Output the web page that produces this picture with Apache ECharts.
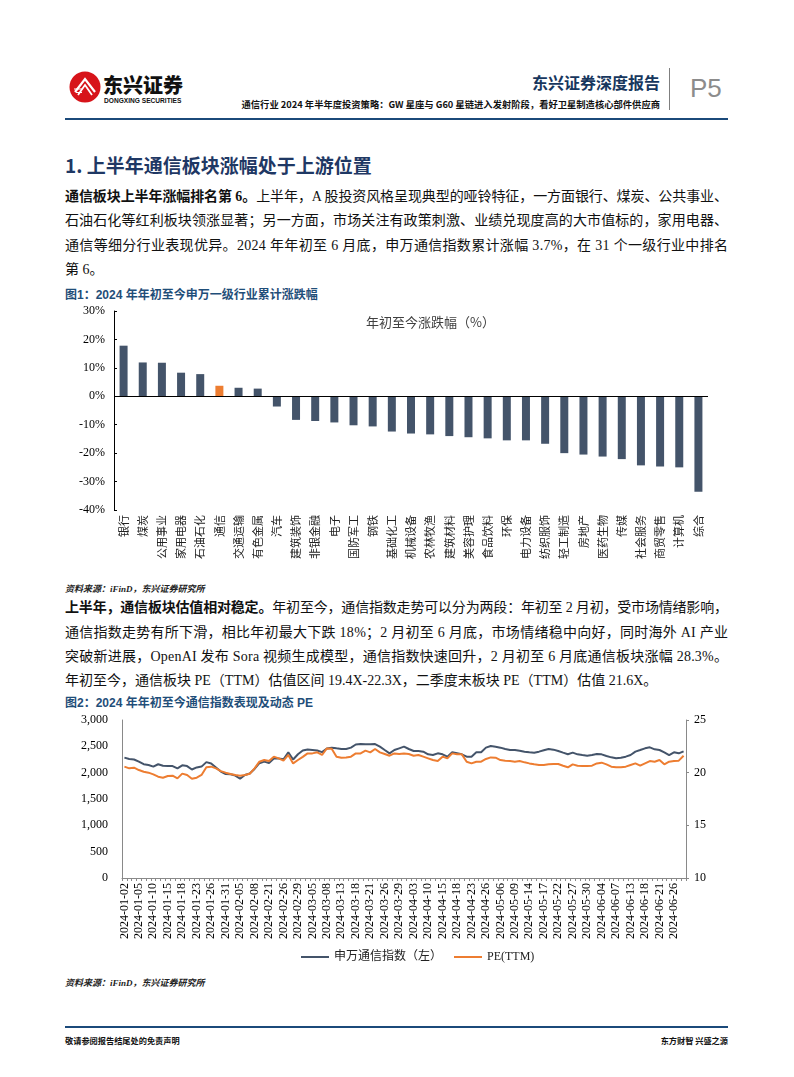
<!DOCTYPE html>
<html><head><meta charset="utf-8">
<script src="https://cdn.jsdelivr.net/npm/echarts/dist/echarts.min.js"></script>
<style>
html,body{margin:0;padding:0;background:#fff;}
#page{position:relative;width:794px;height:1077px;overflow:hidden;background:#fff;font-family:"Liberation Serif","Noto Sans CJK SC",serif;color:#111;}
.abs{position:absolute;white-space:nowrap;}
.body{position:absolute;left:65px;font-size:14px;line-height:24px;height:24px;white-space:nowrap;font-family:"Liberation Serif","Noto Sans CJK SC",serif;color:#111;}
.cap{position:absolute;left:65px;font-size:12px;line-height:16px;font-weight:bold;color:#1F4E79;font-family:"Liberation Sans","Noto Sans CJK SC",sans-serif;}
.src{position:absolute;left:65px;font-size:9px;line-height:14px;font-style:italic;font-weight:bold;color:#222;font-family:"Liberation Serif","Noto Sans CJK SC",serif;}
</style></head>
<body><div id="page">
  <!-- header -->
  <svg class="abs" style="left:69px;top:71px" width="32" height="32" viewBox="0 0 32 32">
    <circle cx="16" cy="16" r="15.5" fill="#D7141A"/>
    <path d="M6 21 L16 8 L26 21" stroke="#fff" stroke-width="2.2" fill="none"/>
    <path d="M9 24 L16 14 L23 24" stroke="#fff" stroke-width="1.8" fill="none"/>
    <path d="M5 18 L13 18 M7 21.5 L13 21.5" stroke="#fff" stroke-width="1.2"/>
  </svg>
  <div class="abs" style="left:103px;top:73px;font-size:20px;line-height:24px;font-weight:900;color:#111;font-family:'Noto Sans CJK SC';">东兴证券</div>
  <div class="abs" style="left:104px;top:97px;font-size:6.6px;line-height:8px;font-weight:bold;color:#111;font-family:'Liberation Sans'">DONGXING SECURITIES</div>
  <div class="abs" style="right:134px;top:71px;font-size:16px;line-height:22px;font-weight:bold;color:#17375E;font-family:'Noto Sans CJK SC'">东兴证券深度报告</div>
  <div class="abs" style="right:134px;top:98px;font-size:9.3px;line-height:12px;font-weight:bold;color:#111;font-family:'Noto Sans CJK SC'">通信行业 2024 年半年度投资策略：GW 星座与 G60 星链进入发射阶段，看好卫星制造核心部件供应商</div>
  <div class="abs" style="left:669px;top:68px;width:1px;height:42px;background:#7f7f7f"></div>
  <div class="abs" style="left:690px;top:72px;font-size:26px;line-height:32px;color:#8c8c8c;font-family:'Liberation Sans'">P5</div>
  <div class="abs" style="left:65px;top:118px;width:663px;height:2px;background:#1B4A7A"></div>

  <div class="abs" style="left:65px;top:152px;font-size:19px;line-height:26px;font-weight:bold;color:#1F3864;font-family:'Noto Sans CJK SC'">1. 上半年通信板块涨幅处于上游位置</div>

  <div class="body just" style="top:185px"><b>通信板块上半年涨幅排名第 6。</b>上半年，A 股投资风格呈现典型的哑铃特征，一方面银行、煤炭、公共事业、</div>
  <div class="body just" style="top:209px">石油石化等红利板块领涨显著；另一方面，市场关注有政策刺激、业绩兑现度高的大市值标的，家用电器、</div>
  <div class="body just" style="top:234px">通信等细分行业表现优异。2024 年年初至 6 月底，申万通信指数累计涨幅 3.7%，在 31 个一级行业中排名</div>
  <div class="body" style="top:258px">第 6。</div>

  <div class="cap" style="top:287px">图1：2024 年年初至今申万一级行业累计涨跌幅</div>
  <div id="c1" class="abs" style="left:0;top:300px;width:794px;height:280px"></div>
  <div class="src" style="top:582px">资料来源：iFinD，东兴证券研究所</div>

  <div class="body just" style="top:596px"><b>上半年，通信板块估值相对稳定。</b>年初至今，通信指数走势可以分为两段：年初至 2 月初，受市场情绪影响，</div>
  <div class="body just" style="top:621px">通信指数走势有所下滑，相比年初最大下跌 18%；2 月初至 6 月底，市场情绪稳中向好，同时海外 AI 产业</div>
  <div class="body just" style="top:645px">突破新进展，OpenAI 发布 Sora 视频生成模型，通信指数快速回升，2 月初至 6 月底通信板块涨幅 28.3%。</div>
  <div class="body" style="top:669px">年初至今，通信板块 PE（TTM）估值区间 19.4X-22.3X，二季度末板块 PE（TTM）估值 21.6X。</div>

  <div class="cap" style="top:695px">图2：2024 年年初至今通信指数表现及动态 PE</div>
  <div id="c2" class="abs" style="left:0;top:705px;width:794px;height:265px"></div>
  <div class="src" style="top:976px">资料来源：iFinD，东兴证券研究所</div>

  <div class="abs" style="left:65px;top:1026px;width:663px;height:2px;background:#1B4A7A"></div>
  <div class="abs" style="left:65px;top:1034px;font-size:8.2px;line-height:12px;font-weight:bold;color:#111;font-family:'Noto Sans CJK SC'">敬请参阅报告结尾处的免责声明</div>
  <div class="abs" style="right:66px;top:1034px;font-size:8.2px;line-height:12px;font-weight:bold;color:#111;font-family:'Noto Sans CJK SC'">东方财智 兴盛之源</div>
</div>
<script>
// justify each full body line to the 663px text width
document.querySelectorAll('.just').forEach(el=>{
  const w = el.getBoundingClientRect().width;
  const n = el.textContent.length;
  el.style.letterSpacing = ((663 - w)/(n-1)) + 'px';
});

// ---- Figure 1 data ----
const industries = ['银行','煤炭','公用事业','家用电器','石油石化','通信','交通运输','有色金属','汽车','建筑装饰','非银金融','电子','国防军工','钢铁','基础化工','机械设备','农林牧渔','建筑材料','美容护理','食品饮料','环保','电力设备','纺织服饰','轻工制造','房地产','医药生物','传媒','社会服务','商贸零售','计算机','综合'];
const ytdChange = [17.8,11.9,11.8,8.3,7.8,3.7,3.0,2.7,-3.6,-8.3,-8.7,-9.2,-10.2,-10.6,-12.4,-13.1,-13.4,-14.0,-14.4,-14.8,-15.5,-15.5,-16.7,-20.0,-20.5,-21.2,-22.1,-24.3,-24.7,-25.0,-33.6];
const highlightIndustry = '通信';
const pctTicks = {min:-40, max:30, step:10};

// ---- Figure 2 data ----
const tradeDates = [
'2024-01-02','2024-01-03','2024-01-04','2024-01-05','2024-01-08','2024-01-09','2024-01-10','2024-01-11','2024-01-12','2024-01-15','2024-01-16','2024-01-17','2024-01-18','2024-01-19','2024-01-22','2024-01-23','2024-01-24','2024-01-25','2024-01-26','2024-01-29','2024-01-30','2024-01-31',
'2024-02-01','2024-02-02','2024-02-05','2024-02-06','2024-02-07','2024-02-08','2024-02-19','2024-02-20','2024-02-21','2024-02-22','2024-02-23','2024-02-26','2024-02-27','2024-02-28','2024-02-29',
'2024-03-01','2024-03-04','2024-03-05','2024-03-06','2024-03-07','2024-03-08','2024-03-11','2024-03-12','2024-03-13','2024-03-14','2024-03-15','2024-03-18','2024-03-19','2024-03-20','2024-03-21','2024-03-22','2024-03-25','2024-03-26','2024-03-27','2024-03-28','2024-03-29',
'2024-04-01','2024-04-02','2024-04-03','2024-04-08','2024-04-09','2024-04-10','2024-04-11','2024-04-12','2024-04-15','2024-04-16','2024-04-17','2024-04-18','2024-04-19','2024-04-22','2024-04-23','2024-04-24','2024-04-25','2024-04-26','2024-04-29','2024-04-30',
'2024-05-06','2024-05-07','2024-05-08','2024-05-09','2024-05-10','2024-05-13','2024-05-14','2024-05-15','2024-05-16','2024-05-17','2024-05-20','2024-05-21','2024-05-22','2024-05-23','2024-05-24','2024-05-27','2024-05-28','2024-05-29','2024-05-30','2024-05-31',
'2024-06-03','2024-06-04','2024-06-05','2024-06-06','2024-06-07','2024-06-11','2024-06-12','2024-06-13','2024-06-14','2024-06-17','2024-06-18','2024-06-19','2024-06-20','2024-06-21','2024-06-24','2024-06-25','2024-06-26','2024-06-27','2024-06-28'];
const swTelecomIndex = [
2285,2260,2250,2210,2160,2145,2115,2160,2130,2125,2125,2080,2140,2125,2060,2100,2115,2200,2175,2100,2020,1975,
1970,1945,1885,1955,1985,2070,2180,2210,2185,2270,2270,2255,2385,2250,2350,
2420,2440,2430,2420,2390,2460,2475,2462,2450,2450,2475,2535,2544,2538,2538,2544,2494,2430,2367,2430,2462,
2494,2449,2411,2411,2399,2348,2335,2367,2348,2304,2386,2367,2348,2304,2304,2386,2386,2475,2506,2494,
2475,2449,2430,2430,2418,2399,2386,2380,2399,2424,2449,2437,2411,2380,2350,2380,2348,2335,2323,2335,
2354,2348,2316,2291,2272,2285,2304,2335,2399,2430,2462,2481,2443,2430,2386,2335,2386,2367,2405];
const peTTM = [
20.57,20.41,20.47,20.25,20.09,20.00,19.84,19.62,19.52,19.68,19.71,19.46,19.91,19.78,19.42,19.52,19.78,20.51,20.57,20.41,20.15,20.00,
19.87,19.78,19.71,19.78,19.90,20.41,21.04,21.20,21.10,21.52,21.36,21.14,21.68,20.88,21.20,
21.50,21.83,21.83,21.93,21.68,22.30,22.28,21.52,21.42,21.45,21.52,21.83,21.83,22.09,21.93,22.25,21.93,21.77,21.61,21.83,21.77,
21.83,21.77,21.61,21.68,21.52,21.36,21.20,21.10,21.52,21.36,21.83,21.74,21.74,21.04,20.88,21.04,21.04,21.30,21.45,21.42,
21.20,21.14,21.10,21.04,21.10,20.98,20.88,20.79,20.73,20.73,20.79,20.82,20.82,20.66,20.51,20.79,20.66,20.63,20.63,20.66,
20.88,20.95,20.79,20.57,20.51,20.51,20.57,20.73,20.88,20.66,20.88,21.10,21.04,21.20,20.79,21.04,21.10,21.14,21.60];
const indexTicks = {min:0, max:3000, step:500};
const peTicks = {min:10, max:25, step:5};
const seriesNames = ['申万通信指数（左）','PE(TTM)'];

const DARK = '#44546A', ORANGE = '#ED7D31';
const serif = 'Liberation Serif';
const cjk = 'Noto Sans CJK SC';

const c1 = echarts.init(document.getElementById('c1'), null, {renderer:'canvas'});
c1.setOption({
  animation:false,
  title:{text:'年初至今涨跌幅（%）', left:361, top:11, textStyle:{fontSize:13, fontWeight:'normal', color:'#404040', fontFamily:cjk}},
  grid:{left:114, right:86, top:11, bottom:70},
  xAxis:{type:'category', data:industries, axisLine:{show:false, onZero:false}, axisTick:{show:false},
    axisLabel:{rotate:90, interval:0, fontSize:11, color:'#222', margin:5, fontFamily:cjk}},
  yAxis:{type:'value', min:pctTicks.min, max:pctTicks.max, interval:pctTicks.step,
    axisLine:{show:true, lineStyle:{color:'#000', width:1}},
    axisTick:{show:true, inside:true, length:3, lineStyle:{color:'#000'}},
    splitLine:{show:false},
    axisLabel:{formatter:'{value}%', fontSize:12, color:'#000', fontFamily:serif, margin:9}},
  series:[{type:'bar', barWidth:8,
    data: ytdChange.map((v,i)=>({value:v, itemStyle:{color: industries[i]===highlightIndustry ? ORANGE : DARK}})),
    markLine:{silent:true, symbol:'none', label:{show:false}, lineStyle:{color:'#000', width:1, type:'solid'}, data:[{yAxis:0}]}
  }]
});

const c2 = echarts.init(document.getElementById('c2'), null, {renderer:'canvas'});
c2.setOption({
  animation:false,
  grid:{left:122, right:108, top:15, bottom:92},
  legend:{top:241, left:296, icon:'rect', itemWidth:28, itemHeight:2, itemGap:12,
    textStyle:{fontSize:12, color:'#222', fontFamily:serif + ',' + cjk},
    data:seriesNames},
  xAxis:{type:'category', data:tradeDates, boundaryGap:true,
    axisLine:{lineStyle:{color:'#898989', width:1}},
    axisTick:{show:true, interval:0, length:3, lineStyle:{color:'#898989'}},
    axisLabel:{interval:2, rotate:90, fontSize:12, color:'#000', fontFamily:serif, margin:5}},
  yAxis:[
    {type:'value', min:indexTicks.min, max:indexTicks.max, interval:indexTicks.step, position:'left',
     axisLine:{show:true, lineStyle:{color:'#898989'}}, axisTick:{show:false}, splitLine:{show:false},
     axisLabel:{fontSize:12, color:'#000', fontFamily:serif, margin:14, formatter:v=>v.toLocaleString('en-US')}},
    {type:'value', min:peTicks.min, max:peTicks.max, interval:peTicks.step, position:'right',
     axisLine:{show:true, lineStyle:{color:'#898989'}}, axisTick:{show:true, length:3, lineStyle:{color:'#898989'}}, splitLine:{show:false},
     axisLabel:{fontSize:12, color:'#000', fontFamily:serif, margin:8}}
  ],
  series:[
    {name:seriesNames[0], type:'line', yAxisIndex:0, data:swTelecomIndex, symbol:'none', lineStyle:{color:DARK, width:2}, itemStyle:{color:DARK}},
    {name:seriesNames[1], type:'line', yAxisIndex:1, data:peTTM, symbol:'none', lineStyle:{color:ORANGE, width:2}, itemStyle:{color:ORANGE}}
  ]
});
</script>
</body></html>
